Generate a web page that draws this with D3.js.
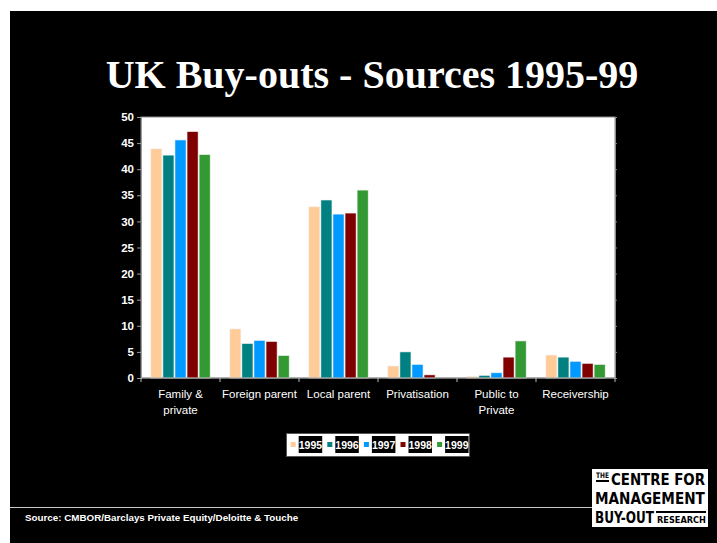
<!DOCTYPE html>
<html>
<head>
<meta charset="utf-8">
<script src="https://cdn.jsdelivr.net/npm/d3@7"></script>
<style>
  html, body { margin: 0; padding: 0; background: #ffffff; }
  svg { display: block; }
  text { font-family: "Liberation Sans", Arial, sans-serif; }
</style>
</head>
<body>
<svg id="chart" width="717" height="543"></svg>
<script>
// Buy-out sources by year (% of deals)
const categories = ["Family & private", "Foreign parent", "Local parent", "Privatisation", "Public to Private", "Receivership"];
const categoryLines = [["Family &", "private"], ["Foreign parent"], ["Local parent"], ["Privatisation"], ["Public to", "Private"], ["Receivership"]];
const years = ["1995", "1996", "1997", "1998", "1999"];
const values1995 = [43.9, 9.4, 32.8, 2.3, 0.3, 4.4];
const values1996 = [42.7, 6.6, 34.1, 5.0, 0.5, 4.0];
const values1997 = [45.6, 7.2, 31.4, 2.6, 1.0, 3.2];
const values1998 = [47.2, 7.0, 31.6, 0.6, 4.0, 2.8];
const values1999 = [42.8, 4.3, 36.0, 0.0, 7.1, 2.6];
const yTicks = [0, 5, 10, 15, 20, 25, 30, 35, 40, 45, 50];
const colors = ["#FFCC99", "#008080", "#0099FF", "#800000", "#339933"];

const seriesValues = [values1995, values1996, values1997, values1998, values1999];
const rows = categories.map((c, i) => ({
  category: c,
  values: years.map((y, j) => ({ year: y, value: seriesValues[j][i] }))
}));

const svg = d3.select("#chart");

// slide background
svg.append("rect").attr("x", 10).attr("y", 11).attr("width", 707).attr("height", 532).attr("fill", "#000");

// title
svg.append("text")
  .attr("x", 372).attr("y", 88)
  .attr("text-anchor", "middle")
  .attr("fill", "#fff")
  .style("font-family", "'Liberation Serif', 'Times New Roman', serif")
  .style("font-weight", "bold")
  .style("font-size", "40px")
  .text("UK Buy-outs - Sources 1995-99");

// plot area
const plot = { left: 141, top: 117, right: 615, bottom: 378 };
const x = d3.scaleBand().domain(categories).range([plot.left, plot.right]).paddingInner(0).paddingOuter(0);
const bw = x.bandwidth();
const xInner = d3.scaleBand().domain(years).range([bw * 0.118, bw * 0.882]).paddingInner(0);
const y = d3.scaleLinear().domain([0, 50]).range([plot.bottom, plot.top]);

svg.append("rect")
  .attr("x", plot.left).attr("y", plot.top)
  .attr("width", plot.right - plot.left).attr("height", plot.bottom - plot.top)
  .attr("fill", "#fff").attr("stroke", "#8c8c8c").attr("stroke-width", 1);

// bars
const groups = svg.append("g").selectAll("g").data(rows).join("g")
  .attr("transform", d => `translate(${x(d.category)},0)`);
groups.selectAll("rect").data(d => d.values).join("rect")
  .attr("x", d => xInner(d.year) + 0.5)
  .attr("width", xInner.bandwidth() - 1)
  .attr("y", d => y(d.value))
  .attr("height", d => y(0) - y(d.value))
  .attr("fill", (d, i) => colors[i])
  .attr("stroke", "#f2f2f2")
  .attr("stroke-width", 0.6);

// y axis
const yAxis = svg.append("g")
  .attr("transform", `translate(${plot.left},0)`)
  .call(d3.axisLeft(y).tickValues(yTicks).tickSize(4).tickPadding(3).tickFormat(d3.format("d")));
yAxis.select(".domain").attr("stroke", "#9a9a9a");
yAxis.selectAll(".tick line").attr("stroke", "#9a9a9a");
yAxis.selectAll(".tick text")
  .attr("fill", "#fff")
  .style("font-size", "11.5px")
  .style("font-weight", "bold");

// small tick stubs on the right edge
svg.append("g")
  .attr("transform", `translate(${plot.right},0)`)
  .call(d3.axisRight(y).tickValues(yTicks).tickSize(2).tickFormat(""))
  .call(g => g.select(".domain").attr("stroke", "#8c8c8c"))
  .call(g => g.selectAll(".tick line").attr("stroke", "#8c8c8c"));

// x axis with ticks at category boundaries
const xAxis = svg.append("g").attr("transform", `translate(0,${plot.bottom})`);
xAxis.append("line")
  .attr("x1", plot.left).attr("x2", plot.right)
  .attr("stroke", "#9a9a9a");
const boundaries = categories.map(c => x(c)).concat([plot.right]);
xAxis.selectAll("line.tick").data(boundaries).join("line")
  .attr("class", "tick")
  .attr("x1", d => d).attr("x2", d => d)
  .attr("y1", 0).attr("y2", 4)
  .attr("stroke", "#bdbdbd");

const labels = svg.append("g").selectAll("text").data(categories).join("text")
  .attr("x", d => x(d) + bw / 2)
  .attr("y", 398)
  .attr("text-anchor", "middle")
  .attr("fill", "#fff")
  .style("font-size", "11.5px");
labels.each(function (d, i) {
  d3.select(this).selectAll("tspan").data(categoryLines[i]).join("tspan")
    .attr("x", x(d) + bw / 2)
    .attr("dy", (t, k) => k === 0 ? 0 : 16)
    .text(t => t);
});

// legend
const legend = svg.append("g");
legend.append("rect")
  .attr("x", 286.5).attr("y", 433.5).attr("width", 183).attr("height", 23)
  .attr("fill", "#fff").attr("stroke", "#555").attr("stroke-width", 1);
const items = legend.selectAll("g").data(years).join("g")
  .attr("transform", (d, i) => `translate(${290.7 + i * 36.6},0)`);
items.append("rect")
  .attr("x", 0).attr("y", 442).attr("width", 5).attr("height", 5)
  .attr("fill", (d, i) => colors[i]);
items.append("rect")
  .attr("x", 8).attr("y", 436).attr("width", 23.5).attr("height", 17)
  .attr("fill", "#000");
items.append("text")
  .attr("x", 19.7).attr("y", 448.5)
  .attr("text-anchor", "middle")
  .attr("fill", "#fff")
  .style("font-size", "10.5px")
  .style("font-weight", "bold")
  .text(d => d);

// footer rule and source note
svg.append("line")
  .attr("x1", 10).attr("x2", 593).attr("y1", 507.5).attr("y2", 507.5)
  .attr("stroke", "#c8c8c8").attr("stroke-width", 1);
svg.append("text")
  .attr("x", 25).attr("y", 521)
  .attr("fill", "#fff")
  .style("font-size", "9.8px")
  .style("font-weight", "bold")
  .text("Source: CMBOR/Barclays Private Equity/Deloitte & Touche");

// CMBOR logo: each word is squeezed horizontally to a fixed width
const logo = svg.append("g");
const logoFont = "'DejaVu Sans Condensed', 'Liberation Sans', sans-serif";
logo.append("rect").attr("x", 592).attr("y", 469).attr("width", 116).attr("height", 58).attr("fill", "#fff");
const logoText = (tx, ty, size, len, str) => {
  const t = logo.append("text")
    .attr("x", 0).attr("y", 0)
    .attr("fill", "#000")
    .style("font-family", logoFont)
    .style("font-weight", "bold")
    .style("font-size", size + "px")
    .text(str);
  const natural = t.node().getComputedTextLength();
  t.attr("transform", `translate(${tx},${ty}) scale(${len / natural},1)`);
};
logoText(596, 478, 7.5, 13, "THE");
logo.append("rect").attr("x", 596).attr("y", 480).attr("width", 13).attr("height", 2).attr("fill", "#000");
logoText(611, 485, 16, 94, "CENTRE FOR");
logoText(595, 504, 16, 110, "MANAGEMENT");
logoText(595, 523, 16, 59, "BUY-OUT");
logo.append("rect").attr("x", 656).attr("y", 511).attr("width", 50).attr("height", 2).attr("fill", "#000");
logoText(657, 523, 8.5, 49, "RESEARCH");
</script>
</body>
</html>
